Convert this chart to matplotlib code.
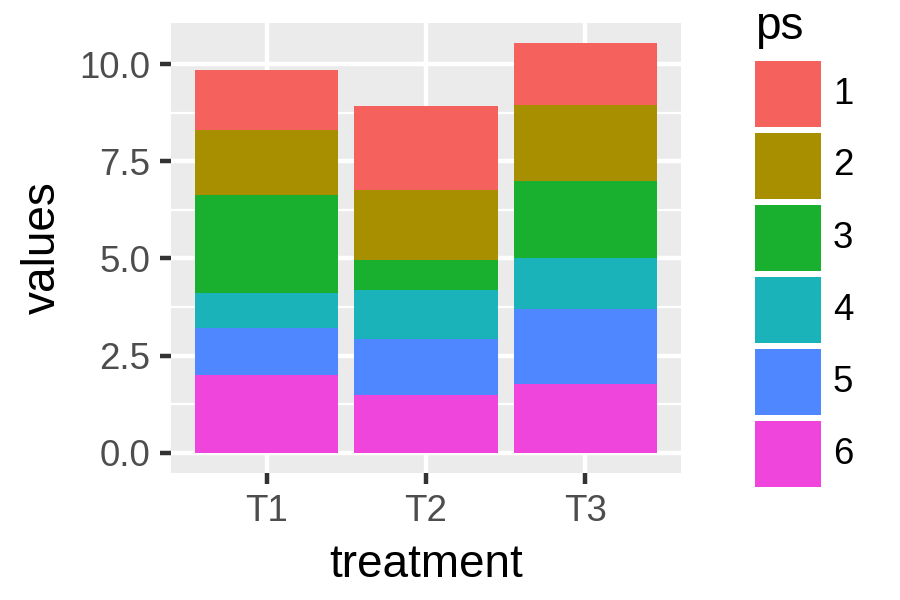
import matplotlib
matplotlib.use("Agg")
import matplotlib.pyplot as plt
from matplotlib.patches import Rectangle
import numpy as np

plt.rcParams['font.family'] = ['Liberation Sans', 'DejaVu Sans']

treatments = ["T1", "T2", "T3"]
ps_levels = ["1", "2", "3", "4", "5", "6"]
values = {
    "1": [1.55, 2.16, 1.60],
    "2": [1.66, 1.79, 1.95],
    "3": [2.52, 0.77, 1.97],
    "4": [0.90, 1.27, 1.32],
    "5": [1.23, 1.44, 1.92],
    "6": [1.99, 1.49, 1.78],
}
colors = {
    "1": "#F5615C",
    "2": "#A88F00",
    "3": "#18B02E",
    "4": "#19B3B9",
    "5": "#4E87FF",
    "6": "#F045DC",
}
y_ticks = [0.0, 2.5, 5.0, 7.5, 10.0]
y_minor = [1.25, 3.75, 6.25, 8.75]

W, H = 900, 600
fig = plt.figure(figsize=(3, 2), dpi=300)
ax = fig.add_axes([171 / W, 1 - 473.3 / H, (681 - 171) / W, (473.3 - 22.7) / H])
ax.set_facecolor("#EBEBEB")
for s in ax.spines.values():
    s.set_visible(False)

x = np.arange(1, len(treatments) + 1)
bottom = np.zeros(len(treatments))
for lvl in reversed(ps_levels):
    v = np.array(values[lvl])
    ax.bar(x, v, width=0.9, bottom=bottom, color=colors[lvl], linewidth=0, zorder=3)
    bottom += v

ymax = bottom.max()
ax.set_ylim(-0.05 * ymax, 1.05 * ymax)
ax.set_xlim(0.4, 3.6)

ax.set_yticks(y_ticks)
ax.set_yticklabels([f"{t:.1f}" for t in y_ticks])
ax.set_yticks(y_minor, minor=True)
ax.set_xticks(x)
ax.set_xticklabels(treatments)

ax.grid(which="major", color="white", linewidth=1.07, zorder=1)
ax.grid(which="minor", axis="y", color="white", linewidth=0.53, zorder=1)
ax.set_axisbelow(True)
ax.tick_params(which="major", length=2.75, width=1.07, color="#333333",
               labelsize=8.8, labelcolor="#4D4D4D", pad=2.2)
ax.tick_params(which="minor", length=0)

fig.text(426 / W, 1 - 577 / H, "treatment", fontsize=11, ha="center", va="baseline")
fig.text(55 / W, 1 - 248 / H, "values", fontsize=11, rotation=90,
         rotation_mode="anchor", ha="center", va="baseline")

# legend
fig.text(755 / W, 1 - 39 / H, "ps", fontsize=11, ha="left", va="baseline")
for i, lvl in enumerate(ps_levels):
    top = 61 + 72 * i
    fig.add_artist(Rectangle((755 / W, 1 - (top + 66) / H), 66 / W, 66 / H,
                             transform=fig.transFigure, facecolor=colors[lvl],
                             edgecolor="none"))
    fig.text(833 / W, 1 - (top + 33) / H, lvl, fontsize=8.8, ha="left", va="center")

fig.savefig("out.png", dpi=300)
